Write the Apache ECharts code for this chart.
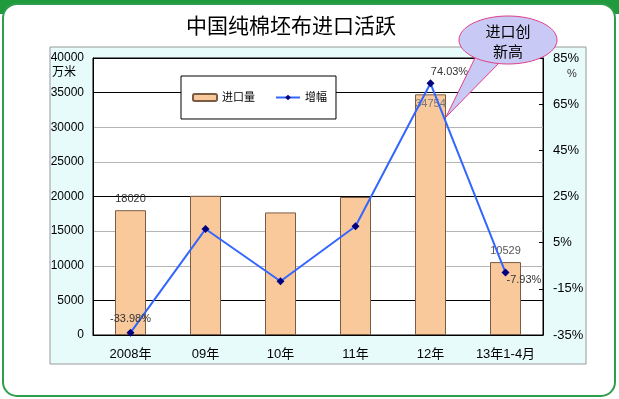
<!DOCTYPE html>
<html>
<head>
<meta charset="utf-8">
<style>
  html, body { margin: 0; padding: 0; background: #fff; }
  #chart { width: 619px; height: 399px; }
</style>
<script src="https://cdn.jsdelivr.net/npm/echarts@6/dist/echarts.min.js"></script>
</head>
<body>
<div id="chart"></div>
<script>
// 类目
var categories = ['2008年', '09年', '10年', '11年', '12年', '13年1-4月'];
// 进口量（万米）
var importVolume = [18020, 20100, 17700, 19930, 34754, 10529];
// 增幅（%）
var growthRate = [-33.98, 10.9, -11.7, 12.1, 74.03, -7.93];
// 右轴刻度
var rightTicks = [-35, -15, 5, 25, 45, 65, 85];

var FONT = '"Liberation Sans", "Noto Sans CJK SC", sans-serif';

// 只有这几个点显示数值
var barLabels = {
    0: { position: 'top', distance: 6, color: '#333' },
    4: { position: 'insideTop', distance: 4, color: '#777' },
    5: { position: 'top', distance: 6, color: '#555' }
};
var lineLabels = {
    0: { position: 'top', distance: 4 },
    4: { position: 'top', distance: 4, offset: [19, 2] },
    5: { position: 'right', distance: -3, offset: [0, 7] }
};

var barData = importVolume.map(function (v, i) {
    var lb = barLabels[i];
    return {
        value: v,
        label: lb ? Object.assign({ show: true, fontSize: 11, fontFamily: FONT }, lb) : { show: false }
    };
});
var lineData = growthRate.map(function (v, i) {
    var lb = lineLabels[i];
    return {
        value: v,
        label: lb ? Object.assign({
            show: true, fontSize: 11, fontFamily: FONT, color: '#333',
            formatter: function (p) { return p.value.toFixed(2) + '%'; }
        }, lb) : { show: false }
    };
});

var chart = echarts.init(document.getElementById('chart'));

var option = {
    animation: false,
    textStyle: { fontFamily: FONT },
    graphic: [
        // 外框
        { type: 'rect', z: -20, shape: { x: 0, y: 0, width: 619, height: 14 },
          style: { fill: '#1f9a3c' } },
        { type: 'rect', z: -19, shape: { x: 3, y: 4, width: 612, height: 392, r: 14 },
          style: { fill: '#fff', stroke: '#2f9e4c', lineWidth: 2 } },
        // 图表区
        { type: 'rect', z: -18, shape: { x: 50, y: 47, width: 536, height: 317 },
          style: { fill: '#e8fbfb', stroke: '#999', lineWidth: 1 } },
        // 标题
        { type: 'text', z: 5, x: 291, y: 25,
          style: { text: '中国纯棉坯布进口活跃', fontSize: 21, fill: '#000', align: 'center',
                   verticalAlign: 'middle', fontFamily: '"Noto Sans CJK SC"' } },
        // 单位
        { type: 'text', z: 5, left: 52, top: 67,
          style: { text: '万米', fontSize: 12, fill: '#000', fontFamily: FONT } },
        { type: 'text', z: 5, left: 567, top: 68,
          style: { text: '%', fontSize: 11, fill: '#333', fontFamily: FONT } },
        // 标注气泡
        { type: 'polygon', z: 50, shape: { points: [[476, 56], [500, 62], [446, 117]] },
          style: { fill: '#c9c9f5', stroke: '#e0408a', lineWidth: 1 } },
        { type: 'ellipse', z: 51, shape: { cx: 508, cy: 40, rx: 49, ry: 24 },
          style: { fill: '#c9c9f5', stroke: '#e0408a', lineWidth: 1 } },
        { type: 'text', z: 52, x: 508, y: 41,
          style: { text: '进口创\n新高', fontSize: 15, lineHeight: 20, fill: '#000',
                   align: 'center', verticalAlign: 'middle', fontFamily: '"Noto Sans CJK SC"' } }
    ],
    legend: {
        data: ['进口量', '增幅'],
        left: 181,
        top: 76,
        orient: 'horizontal',
        padding: [16, 9, 16, 11],
        itemGap: 20,
        itemWidth: 24,
        itemHeight: 7,
        backgroundColor: '#fff',
        borderColor: '#000',
        borderWidth: 1,
        textStyle: { fontSize: 11, color: '#000', fontFamily: FONT }
    },
    grid: {
        left: 93,
        right: 76,
        top: 58,
        bottom: 64,
        show: true,
        backgroundColor: '#fff',
        borderColor: '#000',
        borderWidth: 1
    },
    xAxis: {
        type: 'category',
        data: categories,
        axisLine: { lineStyle: { color: '#000', width: 1 } },
        axisTick: { inside: true, length: 4, lineStyle: { color: '#000' } },
        axisLabel: { margin: 13, fontSize: 13, color: '#000', interval: 0, fontFamily: FONT }
    },
    yAxis: [
        {
            type: 'value',
            min: 0,
            max: 40000,
            interval: 5000,
            axisLine: { show: true, lineStyle: { color: '#000' } },
            axisTick: { show: false },
            axisLabel: { margin: 9, fontSize: 12, color: '#000', fontFamily: FONT,
                         formatter: function (v) { return String(v); } },
            splitLine: {
                lineStyle: {
                    color: ['#000', '#000', '#b4b4b4', '#b4b4b4', '#000', '#b4b4b4', '#b4b4b4', '#000', '#000'],
                    width: 1
                }
            }
        },
        {
            type: 'value',
            min: -35,
            max: 85,
            position: 'right',
            axisLine: { show: true, lineStyle: { color: '#000' } },
            axisTick: { show: true, inside: true, length: 4, customValues: rightTicks, lineStyle: { color: '#000' } },
            axisLabel: {
                margin: 10, fontSize: 13, color: '#000', fontFamily: FONT,
                customValues: rightTicks,
                formatter: '{value}%'
            },
            splitLine: { show: false }
        }
    ],
    series: [
        {
            name: '进口量',
            type: 'bar',
            barWidth: 31,
            data: barData,
            itemStyle: { color: '#fac99b', borderColor: '#7a5c44', borderWidth: 1 }
        },
        {
            name: '增幅',
            type: 'line',
            yAxisIndex: 1,
            data: lineData,
            symbol: 'diamond',
            symbolSize: 8,
            lineStyle: { color: '#3366ff', width: 2 },
            itemStyle: { color: '#000080' }
        }
    ]
};

chart.setOption(option);
</script>
</body>
</html>
